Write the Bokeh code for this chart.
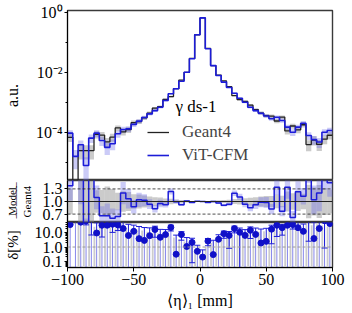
import numpy as np
from bokeh.plotting import figure
from bokeh.layouts import column
from bokeh.models import (Range1d, FixedTicker, CustomJSTickFormatter, PrintfTickFormatter,
                          Span, Legend, LegendItem, Label)
from bokeh.embed import file_html
from bokeh.resources import INLINE

# ---------------- data ----------------
bin_edges = list(range(-100, 101, 4))          # <eta>_1 in mm, 50 bins of 4 mm
geant4 = [6.9e-5, 0.0, 2.5e-5, 2.5e-5, 2.5e-5, 8.66e-5, 8.18e-5, 4.85e-5, 7.0e-5, 1.42e-4,
          1.05e-4, 1.24e-4, 2.13e-4, 2.31e-4, 3.07e-4, 4.45e-4, 6.47e-4, 7.27e-4, 1.265e-3, 1.573e-3,
          2.889e-3, 5.546e-3, 1.009e-2, 2.942e-2, 0.1811, 0.6623, 6.335e-2, 1.705e-2, 8.228e-3, 5.246e-3,
          3.383e-3, 1.704e-3, 1.245e-3, 1.092e-3, 8.14e-4, 5.82e-4, 4.455e-4, 3.641e-4, 3.512e-4, 2.418e-4,
          3.26e-4, 1.127e-4, 1.645e-4, 1.228e-4, 1.81e-4, 3.95e-5, 5.58e-5, 4.0e-5, 6.0e-5, 8.1e-5]
vit_cfm = [9.5e-5, 1.6e-5, 3.9e-5, 7.9e-6, 6.5e-5, 9.5e-5, 5.4e-5, 3.2e-5, 4.2e-5, 9.1e-5,
           1.26e-4, 1.32e-4, 1.86e-4, 2.40e-4, 3.16e-4, 4.17e-4, 5.37e-4, 6.92e-4, 1.17e-3, 1.95e-3,
           2.88e-3, 5.13e-3, 1.02e-2, 2.88e-2, 0.182, 0.661, 6.17e-2, 1.70e-2, 7.94e-3, 4.79e-3,
           3.16e-3, 2.04e-3, 1.38e-3, 1.02e-3, 6.92e-4, 5.37e-4, 4.37e-4, 3.55e-4, 2.88e-4, 3.24e-4,
           2.51e-4, 1.51e-4, 1.02e-4, 1.51e-4, 2.04e-4, 7.9e-5, 5.8e-5, 4.8e-5, 1.02e-4, 1.17e-4]
counts_per_unit = 1.6e5      # effective event-count scale for the statistical bands
x_ticks = [-100, -50, 0, 50, 100]
main_y_ticks = [1e-4, 1e-2, 1.0]
ratio_ticks = [0.7, 1.0, 1.3]
delta_ticks = [0.1, 1.0, 10.0]
title_text = "\u03b3 ds-1"

# ---------------- derived quantities ----------------
edges = np.array(bin_edges, dtype=float)
lo, hi = edges[:-1], edges[1:]
ctr = 0.5 * (lo + hi)
G = np.array(geant4, dtype=float)
B = np.array(vit_cfm, dtype=float)
has_g = G > 0
relG = np.where(has_g, 1.0 / np.sqrt(np.where(has_g, G, 1.0) * counts_per_unit), 0.0)
relB = 1.0 / np.sqrt(B * counts_per_unit)
FLOOR = 1e-9
ratio = np.where(has_g, B / np.where(has_g, G, 1.0), 1e3)
delta = 100.0 * np.abs(ratio - 1.0)
delta_err = 100.0 * ratio * np.sqrt(relB ** 2 + relG ** 2)

FONT = "Liberation Serif"
BLUE = "#1c1cd8"
BAND_BLUE = "#6a6ae8"
GRAY = "#8c8c8c"
W = 350
BL, BR = 63, 18


def style(p, label_standoff):
    p.grid.visible = False
    p.outline_line_color = "#3a3a3a"
    p.outline_line_width = 1.4
    p.background_fill_color = "white"
    p.border_fill_color = "white"
    for ax in p.axis:
        ax.major_label_text_font = FONT
        ax.major_label_text_font_size = "16px"
        ax.major_label_text_color = "black"
        ax.axis_label_text_font = FONT
        ax.axis_label_text_font_style = "normal"
        ax.axis_label_text_color = "black"
        ax.axis_line_color = "black"
        ax.major_tick_line_color = "black"
        ax.minor_tick_line_color = "black"
        ax.major_tick_out = 3
        ax.major_tick_in = 0
        ax.minor_tick_out = 2
        ax.minor_tick_in = 0
        ax.major_label_standoff = 2
        ax.axis_label_standoff = label_standoff


log_fmt = CustomJSTickFormatter(code="""
const e = Math.round(Math.log10(tick));
const sup = {"-":"\u207b","0":"\u2070","1":"\u00b9","2":"\u00b2","3":"\u00b3","4":"\u2074",
             "5":"\u2075","6":"\u2076","7":"\u2077","8":"\u2078","9":"\u2079"};
let s = "";
for (const c of String(e)) { s += sup[c]; }
return "10" + s;
""")

xr = Range1d(-100, 100)

# ---------------- main panel ----------------
p1 = figure(width=W, height=180, x_range=xr, y_range=Range1d(10 ** -5.6, 10 ** 0.067),
            y_axis_type="log", x_axis_location=None, output_backend="svg", toolbar_location=None,
            min_border_left=BL, min_border_right=BR, min_border_top=10, min_border_bottom=0)
p1.quad(left=lo[has_g], right=hi[has_g], bottom=np.maximum(G * (1 - relG), FLOOR)[has_g],
        top=(G * (1 + relG))[has_g], fill_color=GRAY, fill_alpha=0.45, line_color=None)
p1.quad(left=lo, right=hi, bottom=np.maximum(B * (1 - relB), FLOOR), top=B * (1 + relB),
        fill_color=BAND_BLUE, fill_alpha=0.35, line_color=None)
Gd = np.where(has_g, G, FLOOR)
rG = p1.step(x=edges, y=np.append(Gd, Gd[-1]), mode="after", line_color="#222222", line_width=1.3)
rB = p1.step(x=edges, y=np.append(B, B[-1]), mode="after", line_color=BLUE, line_width=1.6)
style(p1, 12)
p1.yaxis.ticker = FixedTicker(ticks=main_y_ticks, minor_ticks=[1e-5, 1e-3, 1e-1])
p1.yaxis.formatter = log_fmt
p1.yaxis.axis_label = "a.u."
p1.yaxis.axis_label_text_font_size = "16px"

legend = Legend(items=[LegendItem(label="Geant4", renderers=[rG]),
                       LegendItem(label="ViT-CFM", renderers=[rB])],
                location=(80, 15), padding=0, margin=0, spacing=3,
                glyph_width=22, glyph_height=18, label_standoff=13,
                label_text_font=FONT, label_text_font_size="17px",
                border_line_color=None, background_fill_alpha=0.0)
p1.add_layout(legend)
p1.add_layout(Label(x=-18.5, y=3.6e-4, text=title_text, text_font=FONT,
                    text_font_size="17px", text_color="black"))

# ---------------- ratio panel ----------------
p2 = figure(width=W, height=42, x_range=xr, y_range=Range1d(0.5, 1.5),
            x_axis_location=None, output_backend="svg", toolbar_location=None,
            min_border_left=BL, min_border_right=BR, min_border_top=0, min_border_bottom=0)
p2.quad(left=lo[has_g], right=hi[has_g], bottom=(1 - relG)[has_g], top=(1 + relG)[has_g],
        fill_color=GRAY, fill_alpha=0.45, line_color=None)
p2.quad(left=lo[has_g], right=hi[has_g], bottom=(ratio * (1 - relB))[has_g],
        top=(ratio * (1 + relB))[has_g], fill_color=BAND_BLUE, fill_alpha=0.35, line_color=None)
for loc, dash, lw in [(1.3, "3 2", 0.8), (0.7, "3 2", 0.8), (1.0, "solid", 1.2)]:
    p2.add_layout(Span(location=loc, dimension="width", line_color="#222222",
                       line_dash=dash, line_width=lw))
p2.step(x=edges, y=np.append(ratio, ratio[-1]), mode="after", line_color=BLUE, line_width=1.5)
style(p2, 7)
p2.yaxis.ticker = FixedTicker(ticks=ratio_ticks, minor_ticks=[])
p2.yaxis.formatter = PrintfTickFormatter(format="%.1f")
ul = "\u0332"
p2.yaxis.axis_label = "\u2009" + ul + ul.join("Model") + ul + "\u2009" + ul + "\nGeant4"
p2.yaxis.axis_label_text_font_size = "11px"

# ---------------- delta panel ----------------
p3 = figure(width=W, height=89, x_range=xr, y_range=Range1d(10 ** -1.44, 10 ** 1.725),
            y_axis_type="log", output_backend="svg", toolbar_location=None,
            min_border_left=BL, min_border_right=BR, min_border_top=0, min_border_bottom=44)
p3.segment(x0=lo + 0.3, y0=1e-3, x1=lo + 0.3, y1=100.0 * relG, line_color="#cccccc", line_width=1.8)
p3.add_layout(Span(location=1.0, dimension="width", line_color="#999999",
                   line_dash="3 2", line_width=1))
dclip = np.minimum(delta, 1e4)
p3.segment(x0=ctr, y0=1e-3, x1=ctr, y1=dclip, line_color="#4a4ae0", line_width=0.9, line_alpha=0.75)
upper = np.minimum(delta + delta_err, 1e4)
lower = np.where(delta - delta_err > 0, delta - delta_err, 1e-3)
p3.segment(x0=ctr, y0=np.maximum(lower, dclip), x1=ctr, y1=upper, line_color=BLUE, line_width=1)
p3.segment(x0=ctr, y0=lower, x1=ctr, y1=dclip, line_color=BLUE, line_width=1,
           line_alpha=np.where(lower > 1e-3, 1.0, 0.0))
p3.scatter(x=ctr, y=upper, marker="dash", size=6, line_color=BLUE, line_width=1)
p3.scatter(x=ctr, y=lower, marker="dash", size=6, line_color=BLUE, line_width=1)
p3.scatter(x=ctr, y=dclip, marker="circle", size=6, fill_color="#1010c8", line_color="#1010c8")
style(p3, 11)
p3.yaxis.ticker = FixedTicker(ticks=delta_ticks,
                              minor_ticks=[0.04, 0.05, 0.06, 0.07, 0.08, 0.09,
                                           0.2, 0.3, 0.4, 0.5, 0.6, 0.7, 0.8, 0.9,
                                           2, 3, 4, 5, 6, 7, 8, 9, 20, 30, 40, 50])
p3.yaxis.formatter = CustomJSTickFormatter(code="return tick.toFixed(1);")
p3.yaxis.axis_label = "\u03b4[%]"
p3.yaxis.axis_label_text_font_size = "15px"
p3.xaxis.ticker = FixedTicker(ticks=x_ticks, minor_ticks=[])
p3.xaxis.formatter = CustomJSTickFormatter(
    code='return (tick < 0 ? "\u2212" : "") + Math.abs(tick).toFixed(0);')
p3.xaxis.axis_label = "\u27e8\u03b7\u27e9\u2081 [mm]"
p3.xaxis.axis_label_text_font_size = "16px"
p3.xaxis.major_tick_out = 4
p3.xaxis.axis_label_standoff = 4

layout = column(p1, p2, p3, spacing=0)
open("out.html", "w").write(file_html(layout, INLINE))
